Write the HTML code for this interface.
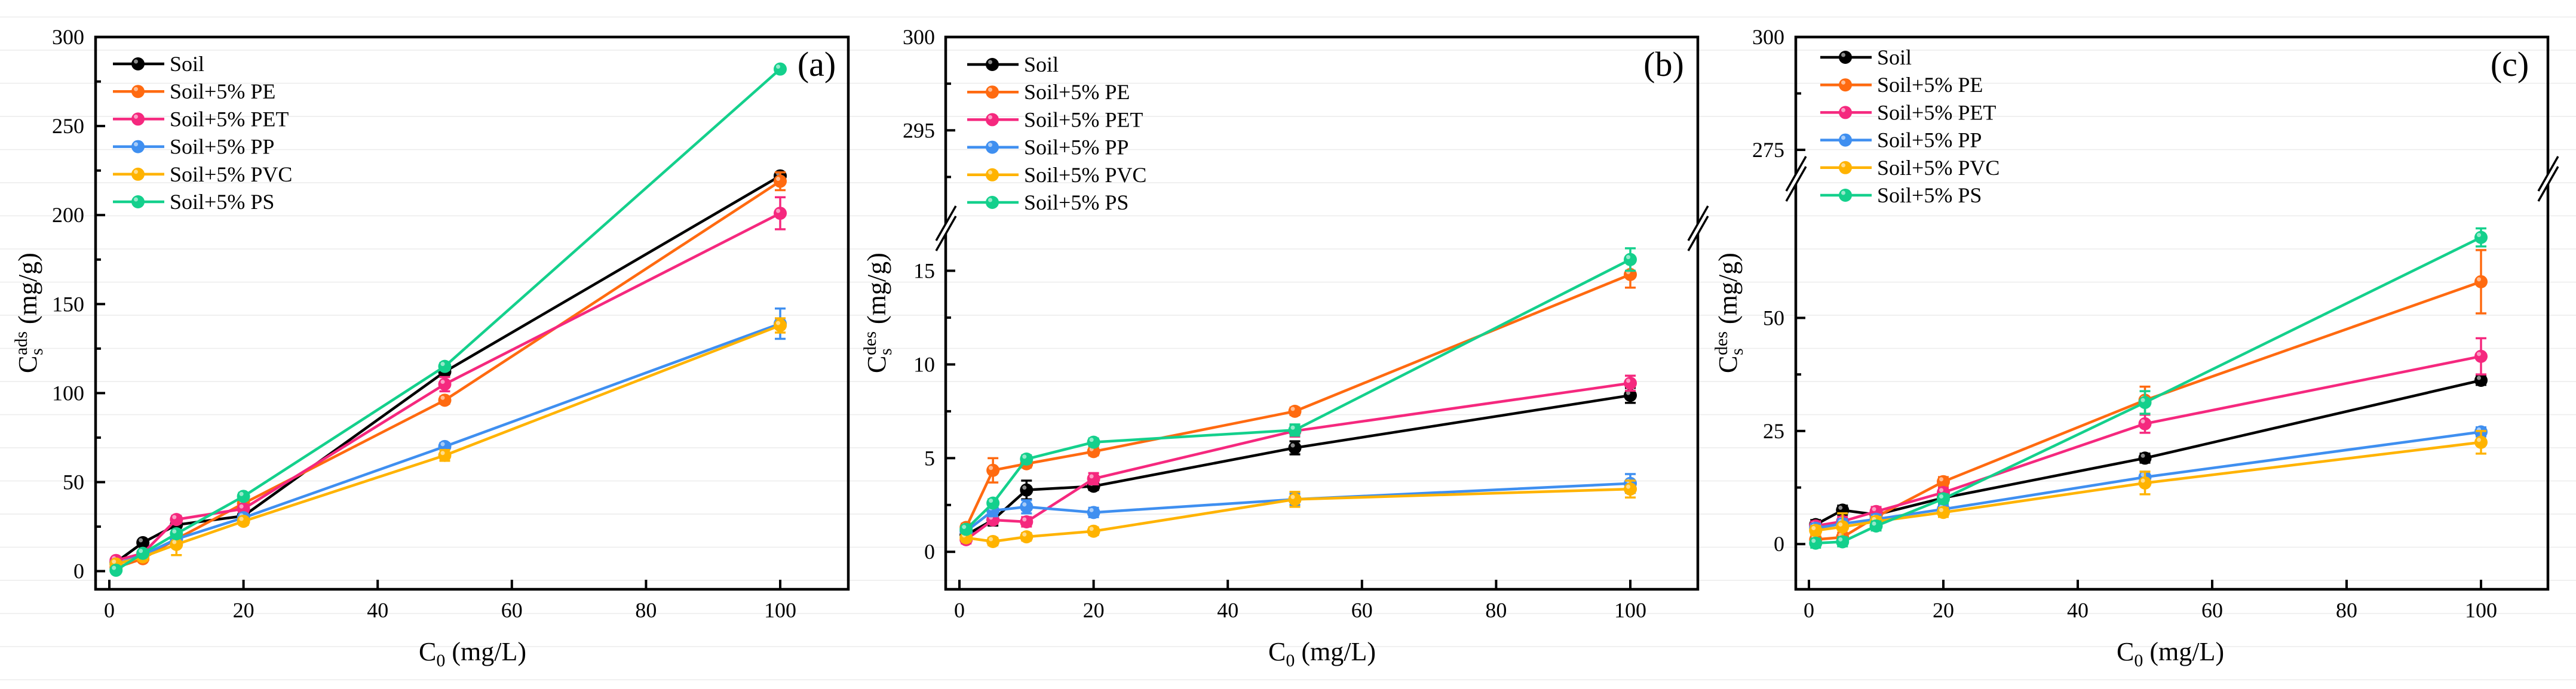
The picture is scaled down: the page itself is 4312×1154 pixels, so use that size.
<!DOCTYPE html>
<html><head><meta charset="utf-8"><style>
html,body{margin:0;padding:0;background:#fff}
svg{display:block}
text{font-family:"Liberation Serif",serif;fill:#000}
</style></head>
<body>
<svg id="chart" width="4312" height="1154" viewBox="0 0 4312 1154" xmlns="http://www.w3.org/2000/svg"></svg>
<script>
const xValues = [1, 5, 10, 20, 50, 100];
const seriesNames = ["Soil", "Soil+5% PE", "Soil+5% PET", "Soil+5% PP", "Soil+5% PVC", "Soil+5% PS"];
const seriesKeys = ["soil", "pe", "pet", "pp", "pvc", "ps"];
const seriesColors = ["#000000", "#ff6a10", "#f5287e", "#3f8ff0", "#ffb300", "#14d08c"];

// Panel (a) adsorption
const aSoil = [5, 16, 26, 31, 112, 222];
const aPE = [2, 7, 18, 38, 96, 219];
const aPET = [6, 10, 29, 35, 105, 201];
const aPP = [4, 9, 18, 30, 70, 139];
const aPVC = [4, 8, 15, 28, 65, 138];
const aPS = [0.5, 10, 21, 42, 115, 282];
const aErrSoil = [1, 1, 1.5, 1.5, 2, 2];
const aErrPE = [1, 1, 1.5, 2, 2, 5];
const aErrPET = [1, 1, 2, 2, 4, 9];
const aErrPP = [1, 1, 2, 2, 2, 8.5];
const aErrPVC = [1, 2, 6, 2, 3, 4];
const aErrPS = [1, 1, 2, 2, 2, 1];

// Panel (b) desorption
const bSoil = [0.9, 1.7, 3.3, 3.5, 5.55, 8.35];
const bPE = [1.3, 4.35, 4.7, 5.35, 7.5, 14.8];
const bPET = [0.65, 1.7, 1.6, 3.9, 6.45, 9.0];
const bPP = [1.1, 2.2, 2.4, 2.1, 2.8, 3.65];
const bPVC = [0.75, 0.55, 0.8, 1.1, 2.8, 3.35];
const bPS = [1.2, 2.6, 4.95, 5.85, 6.5, 15.6];
const bErrSoil = [0.2, 0.3, 0.5, 0.2, 0.35, 0.4];
const bErrPE = [0.2, 0.65, 0.2, 0.2, 0.2, 0.7];
const bErrPET = [0.2, 0.2, 0.25, 0.3, 0.3, 0.4];
const bErrPP = [0.2, 0.3, 0.35, 0.25, 0.3, 0.5];
const bErrPVC = [0.2, 0.2, 0.2, 0.2, 0.4, 0.45];
const bErrPS = [0.2, 0.2, 0.2, 0.2, 0.3, 0.6];

// Panel (c) desorption (repeated)
const cSoil = [4.3, 7.5, 6.5, 10.2, 19, 36.2];
const cPE = [1, 1.5, 6, 13.8, 31.8, 58];
const cPET = [4, 5, 7.2, 11.4, 26.6, 41.5];
const cPP = [3.5, 4.5, 5.5, 7.7, 14.8, 24.8];
const cPVC = [3, 3.8, 5, 7, 13.5, 22.5];
const cPS = [0.2, 0.5, 4, 10, 31.3, 67.8];
const cErrSoil = [1, 1, 1, 1, 1, 1];
const cErrPE = [1, 1, 1, 1, 3, 7];
const cErrPET = [1, 1, 1, 1, 2, 4];
const cErrPP = [1, 1, 1, 1, 1.2, 1];
const cErrPVC = [1, 3, 1, 1, 2.5, 2.5];
const cErrPS = [1, 1, 1, 1, 2.5, 2];

const xTicks = [0, 20, 40, 60, 80, 100];
const aYTicks = [0, 50, 100, 150, 200, 250, 300];
const aYMinor = [25, 75, 125, 175, 225, 275];
const bYTicks = [0, 5, 10, 15, 295, 300];
const bYMinor = [2.5, 7.5, 12.5, 292.5, 297.5];
const cYTicks = [0, 25, 50, 275, 300];
const cYMinor = [12.5, 37.5, 287.5];

const NS = "http://www.w3.org/2000/svg";
const svg = document.getElementById("chart");
function mk(tag, attrs, parent) {
  const e = document.createElementNS(NS, tag);
  for (const k in attrs) e.setAttribute(k, attrs[k]);
  (parent || svg).appendChild(e);
  return e;
}

// faint background scan lines
const bg = mk("g", {});


for (let y = 28.5; y < 1154; y += 55.5) mk("line", {x1: 0, x2: 4312, y1: y, y2: y, stroke: "#ececec", "stroke-width": 1.5}, bg);

const panels = [
  {id: "a", left: 160, right: 1420, x0: 183, x100: 1306, label: "(a)", labelX: 1367, sup: "ads",
   data: [aSoil, aPE, aPET, aPP, aPVC, aPS], err: [aErrSoil, aErrPE, aErrPET, aErrPP, aErrPVC, aErrPS],
   ticks: aYTicks, minor: aYMinor, segs: [{vmin: -10.2, vmax: 300, pb: 987, pt: 62}], brk: null,
   tickRight: 141, titleX: 46, xTitleX: 791, legX: 189, legY: 107},
  {id: "b", left: 1583, right: 2842, x0: 1606, x100: 2729, label: "(b)", labelX: 2785, sup: "des",
   data: [bSoil, bPE, bPET, bPP, bPVC, bPS], err: [bErrSoil, bErrPE, bErrPET, bErrPP, bErrPVC, bErrPS],
   ticks: bYTicks, minor: bYMinor,
   segs: [{vmin: -2, vmax: 16.8, pb: 987, pt: 397}, {vmin: 290.05, vmax: 300, pb: 373, pt: 62}], brk: 383,
   tickRight: 1565, titleX: 1467, xTitleX: 2213, legX: 1619, legY: 108},
  {id: "c", left: 3006, right: 4265, x0: 3028, x100: 4153, label: "(c)", labelX: 4201, sup: "des",
   data: [cSoil, cPE, cPET, cPP, cPVC, cPS], err: [cErrSoil, cErrPE, cErrPET, cErrPP, cErrPVC, cErrPS],
   ticks: cYTicks, minor: cYMinor,
   segs: [{vmin: -10, vmax: 79.1, pb: 987, pt: 312}, {vmin: 270.1, vmax: 300, pb: 288, pt: 62}], brk: 300,
   tickRight: 2987, titleX: 2892, xTitleX: 3633, legX: 3047, legY: 96}
];

panels.forEach(p => {
  const top = 62, bottom = 987;
  const g = mk("g", {});
  
  
  const X = v => p.x0 + (p.x100 - p.x0) * v / 100;
  const Y = v => {
    for (const s of p.segs) {
      if (v <= s.vmax + 1e-9 && v >= s.vmin - 1e-9) return s.pb - (v - s.vmin) / (s.vmax - s.vmin) * (s.pb - s.pt);
    }
    const s = p.segs[0];
    return s.pb - (v - s.vmin) / (s.vmax - s.vmin) * (s.pb - s.pt);
  };
  const fr = mk("rect", {x: p.left, y: top, width: p.right - p.left, height: bottom - top, fill: "none", stroke: "#000", "stroke-width": 4.5}, g);
  
  
  xTicks.forEach(t => {
    mk("line", {x1: X(t), x2: X(t), y1: bottom, y2: bottom - 16, stroke: "#000", "stroke-width": 4}, g);
    const tl = mk("text", {x: X(t), y: 1034, "font-size": 36, "text-anchor": "middle"}, g);
    tl.textContent = t;
    
    
  });
  p.ticks.forEach(t => {
    const y = Y(t);
    mk("line", {x1: p.left, x2: p.left + 16, y1: y, y2: y, stroke: "#000", "stroke-width": 4}, g);
    const tl = mk("text", {x: p.tickRight, y: y + 12, "font-size": 36, "text-anchor": "end"}, g);
    tl.textContent = t;
    
    
  });
  p.minor.forEach(t => {
    const y = Y(t);
    mk("line", {x1: p.left, x2: p.left + 9, y1: y, y2: y, stroke: "#000", "stroke-width": 4}, g);
  });
  if (p.brk) {
    [p.left, p.right].forEach(xx => {
      const bk = mk("g", {}, g);
      
      
      mk("polygon", {points: `${xx-16},${p.brk+20} ${xx+17},${p.brk-38} ${xx+17},${p.brk-21} ${xx-16},${p.brk+37}`, fill: "#fff"}, bk);
      mk("line", {x1: xx - 16, y1: p.brk + 20, x2: xx + 17, y2: p.brk - 38, stroke: "#000", "stroke-width": 3.5}, bk);
      mk("line", {x1: xx - 16, y1: p.brk + 37, x2: xx + 17, y2: p.brk - 21, stroke: "#000", "stroke-width": 3.5}, bk);
    });
  }
  p.data.forEach((vals, si) => {
    const sg = mk("g", {}, g);
    
    
    const col = seriesColors[si];
    const pts = xValues.map((x, i) => X(x) + "," + Y(vals[i])).join(" ");
    const ln = mk("polyline", {points: pts, fill: "none", stroke: col, "stroke-width": 4.5, "stroke-linejoin": "round"}, sg);
    
    
    xValues.forEach((x, i) => {
      const cx = X(x), e = p.err[si][i];
      const yt = Y(vals[i] + e), yb = Y(vals[i] - e);
      const eb = mk("path", {d: `M${cx},${yt}V${yb}M${cx-9},${yt}H${cx+9}M${cx-9},${yb}H${cx+9}`, stroke: col, "stroke-width": 3.5, fill: "none"}, sg);
      
      
      const m = mk("circle", {cx: cx, cy: Y(vals[i]), r: 11, fill: col}, sg);
      
      
      mk("circle", {cx: cx - 3.5, cy: Y(vals[i]) - 4, r: 3.5, fill: "#fff", opacity: 0.55}, sg);
    });
  });
  const lg = mk("g", {}, g);
  
  
  seriesNames.forEach((nm, si) => {
    const y = p.legY + si * 46.2;
    const le = mk("g", {}, lg);
    
    
    mk("line", {x1: p.legX, x2: p.legX + 86, y1: y, y2: y, stroke: seriesColors[si], "stroke-width": 4.5}, le);
    mk("circle", {cx: p.legX + 42, cy: y, r: 11, fill: seriesColors[si]}, le);
    mk("circle", {cx: p.legX + 38.5, cy: y - 4, r: 3.5, fill: "#fff", opacity: 0.55}, le);
    const t = mk("text", {x: p.legX + 95, y: y + 12, "font-size": 36}, le);
    t.textContent = nm;
  });
  const pl = mk("text", {x: p.labelX, y: 127, "font-size": 58, "text-anchor": "middle"}, g);
  pl.textContent = p.label;
  
  
  const xt = mk("text", {x: p.xTitleX, y: 1106, "font-size": 44, "text-anchor": "middle"}, g);
  
  
  xt.innerHTML = 'C<tspan font-size="30" dy="10">0</tspan><tspan dy="-10"> (mg/L)</tspan>';
  // y title: explicit layout in rotated frame (origin at start, runs upward)
  const yg = mk("g", {transform: `translate(${p.titleX + 15},625) rotate(-90)`}, g);
  
  
  const tC = mk("text", {x: 0, y: 0, "font-size": 44}, yg);
  tC.textContent = "C";
  const tSup = mk("text", {x: 30, y: -16, "font-size": 30}, yg);
  tSup.textContent = p.sup;
  const tSub = mk("text", {x: 30, y: 10, "font-size": 30}, yg);
  tSub.textContent = "s";
  const tU = mk("text", {x: 82, y: 0, "font-size": 44}, yg);
  tU.textContent = "(mg/g)";
});
</script>
</body></html>
